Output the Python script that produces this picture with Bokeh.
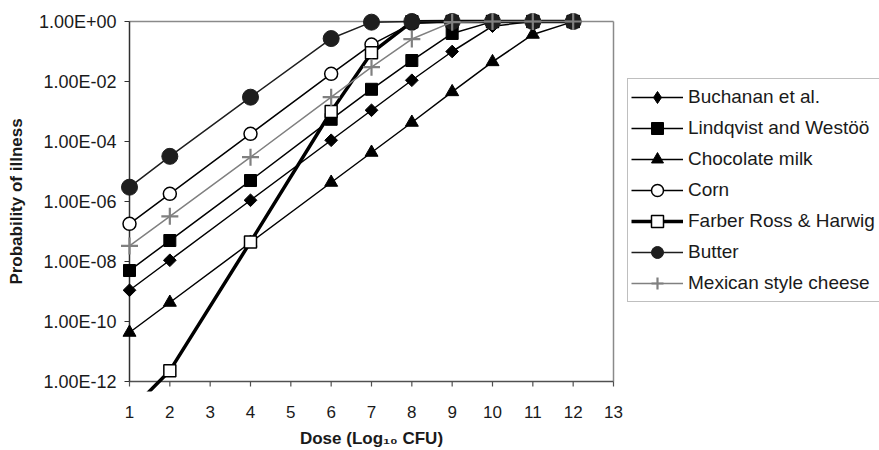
import math
from bokeh.plotting import figure
from bokeh.layouts import row
from bokeh.models import (FixedTicker, Legend, LegendItem, Range1d,
                          CustomJSTickFormatter)
from bokeh.embed import file_html
from bokeh.resources import INLINE

# ---- data ----
dose = [1, 2, 4, 6, 7, 8, 9, 10, 11, 12]
buchanan = [1.1e-9, 1.1e-8, 1.1e-6, 1.1e-4, 1.1e-3, 1.1e-2, 1.0e-1, 0.70, 1.0, 1.0]
lindqvist = [5e-9, 5e-8, 5e-6, 5.5e-4, 5.5e-3, 5e-2, 0.40, 0.99, 1.0, 1.0]
chocolate = [4.3e-11, 4.3e-10, 4.3e-8, 4.3e-6, 4.3e-5, 4.3e-4, 4.5e-3, 4.5e-2, 0.37, 0.99]
corn = [1.8e-7, 1.8e-6, 1.8e-4, 1.8e-2, 0.17, 0.85, 1.0, 1.0, 1.0, 1.0]
farber = [1e-13, 2.3e-12, 4.5e-8, 1.0e-3, 9e-2, 0.98, 1.0, 1.0, 1.0, 1.0]
butter = [3e-6, 3.2e-5, 3e-3, 0.27, 0.95, 1.0, 1.0, 1.0, 1.0, 1.0]
mexican = [3.3e-8, 3.2e-7, 3e-5, 3e-3, 3e-2, 0.26, 0.95, 1.0, 1.0, 1.0]

series_names = ["Buchanan et al.", "Lindqvist and Westöö", "Chocolate milk", "Corn",
                "Farber Ross & Harwig", "Butter", "Mexican style cheese"]

x_ticks = list(range(1, 14))
y_ticks = [1e-12, 1e-10, 1e-8, 1e-6, 1e-4, 1e-2, 1.0]
y_tick_labels = ["1.00E-12", "1.00E-10", "1.00E-08", "1.00E-06", "1.00E-04", "1.00E-02", "1.00E+00"]
x_title = "Dose (Log\u2081\u2080 CFU)"
y_title = "Probability of illness"

x_lo, x_hi = 1, 13
y_lo, y_hi = 1e-12, 1.0

# ---- styles ----
styles = [
    dict(marker="square", size=9, angle=math.pi / 4, lmarker="diamond", lsize=13,
         fill="black", line="black", lw=1.5, mlw=1),
    dict(marker="square", size=12, angle=0, lmarker="square", lsize=12,
         fill="black", line="black", lw=1.5, mlw=1),
    dict(marker="triangle", size=13, angle=0, lmarker="triangle", lsize=13,
         fill="black", line="black", lw=1.5, mlw=1),
    dict(marker="circle", size=13, angle=0, lmarker="circle", lsize=13,
         fill="white", line="black", lw=1.5, mlw=1.5),
    dict(marker="square", size=12, angle=0, lmarker="square", lsize=12,
         fill="white", line="black", lw=3.5, mlw=1.5),
    dict(marker="circle", size=16, angle=0, lmarker="circle", lsize=16,
         fill="#1e1e1e", line="#1e1e1e", lw=1.5, mlw=1),
    dict(marker="cross", size=17, angle=0, lmarker="cross", lsize=17,
         fill="#808080", line="#808080", lw=1.5, mlw=2.2),
]
series_values = [buchanan, lindqvist, chocolate, corn, farber, butter, mexican]

# frame padding (px) so edge markers are not clipped
px_per_x = 484 / 12.0
px_per_dec = 360 / 12.0
pad = 10
x_start = x_lo - pad / px_per_x
x_end = x_hi + pad / px_per_x
y_start = 10 ** (math.log10(y_lo) - pad / px_per_dec)
y_end = 10 ** (math.log10(y_hi) + pad / px_per_dec)

p = figure(width=627, height=450, y_axis_type="log", output_backend="svg",
           toolbar_location=None,
           x_range=Range1d(x_start, x_end), y_range=Range1d(y_start, y_end),
           min_border_left=119, min_border_right=4, min_border_top=11,
           min_border_bottom=59)
p.outline_line_color = None
p.xgrid.visible = False
p.ygrid.visible = False
p.background_fill_color = "white"
p.border_fill_color = "white"

# plot-area border (top/right grey) and axis lines with outward ticks
p.line([x_lo, x_hi], [y_hi, y_hi], line_color="#8a8a8a", line_width=1.5)
p.line([x_hi, x_hi], [y_lo, y_hi], line_color="#8a8a8a", line_width=1.5)
p.line([x_lo, x_hi], [y_lo, y_lo], line_color="#505050", line_width=1.5)
p.line([x_lo, x_lo], [y_lo, y_hi], line_color="#303030", line_width=1.5)
p.ray(x=x_ticks, y=[y_lo] * len(x_ticks), length=5, length_units="screen",
      angle=-math.pi / 2, line_color="#505050", line_width=1.2)
p.ray(x=[x_lo] * len(y_ticks), y=y_ticks, length=5, length_units="screen",
      angle=math.pi, line_color="#303030", line_width=1.2)

# legend lives in a narrow side figure (so it is not clipped by the plot frame)
lg = figure(width=252, height=450, output_backend="svg", toolbar_location=None,
            min_border=0, x_axis_location=None, y_axis_location=None,
            x_range=Range1d(-200, -199), y_range=Range1d(0, 1))
lg.outline_line_color = None
lg.xgrid.visible = False
lg.ygrid.visible = False
lg.border_fill_color = "white"
lg.background_fill_color = "white"

items = []
for name, vals, st in zip(series_names, series_values, styles):
    p.line(dose, vals, line_color=st["line"], line_width=st["lw"])
    p.scatter(dose, vals, marker=st["marker"], size=st["size"], angle=st["angle"],
              fill_color=st["fill"], line_color=st["line"], line_width=st["mlw"])
    # hidden copies (outside the side figure's range) used only for legend glyphs
    lr = lg.line(dose, vals, line_color=st["line"], line_width=st["lw"])
    mr = lg.scatter(dose, vals, marker=st["lmarker"], size=st["lsize"],
                    fill_color=st["fill"], line_color=st["line"], line_width=st["mlw"])
    items.append(LegendItem(label=name, renderers=[lr, mr]))

legend = Legend(items=items, location=(0, 89), glyph_width=52, glyph_height=30,
                label_height=30, label_standoff=5, padding=3, spacing=1, margin=0,
                label_width=215,
                border_line_color="#808080", border_line_width=1.2,
                label_text_font="Liberation Sans", label_text_font_size="19px",
                label_text_color="#1a1a1a", background_fill_alpha=1)
lg.add_layout(legend)

# x axis (labels only; line and ticks drawn above)
xa = p.xaxis[0]
xa.ticker = FixedTicker(ticks=x_ticks)
xa.axis_line_color = None
xa.major_tick_line_color = None
xa.minor_tick_line_color = None
xa.major_tick_out = 0
xa.major_tick_in = 0
xa.major_label_standoff = 14
xa.major_label_text_font = "Liberation Sans"
xa.major_label_text_font_size = "17px"
xa.major_label_text_color = "#1a1a1a"
xa.axis_label = x_title
xa.axis_label_text_font = "Liberation Sans"
xa.axis_label_text_font_style = "bold"
xa.axis_label_text_font_size = "17px"
xa.axis_label_text_color = "#1a1a1a"
xa.axis_label_standoff = 8

# y axis
ya = p.yaxis[0]
ya.ticker = FixedTicker(ticks=y_ticks)
ya.formatter = CustomJSTickFormatter(args=dict(vals=y_ticks, labs=y_tick_labels), code="""
let best = 0, bd = Infinity;
for (let i = 0; i < vals.length; i++) {
  const d = Math.abs(Math.log10(vals[i]) - Math.log10(tick));
  if (d < bd) { bd = d; best = i; }
}
return labs[best];
""")
ya.axis_line_color = None
ya.major_tick_line_color = None
ya.minor_tick_line_color = None
ya.major_tick_out = 0
ya.major_tick_in = 0
ya.major_label_standoff = 3
ya.major_label_text_font = "Liberation Sans"
ya.major_label_text_font_size = "18px"
ya.major_label_text_color = "#1a1a1a"
ya.axis_label = y_title
ya.axis_label_text_font = "Liberation Sans"
ya.axis_label_text_font_style = "bold"
ya.axis_label_text_font_size = "17px"
ya.axis_label_text_color = "#1a1a1a"
ya.axis_label_standoff = 10

layout = row(p, lg, spacing=0)
open("out.html", "w").write(file_html(layout, INLINE))
